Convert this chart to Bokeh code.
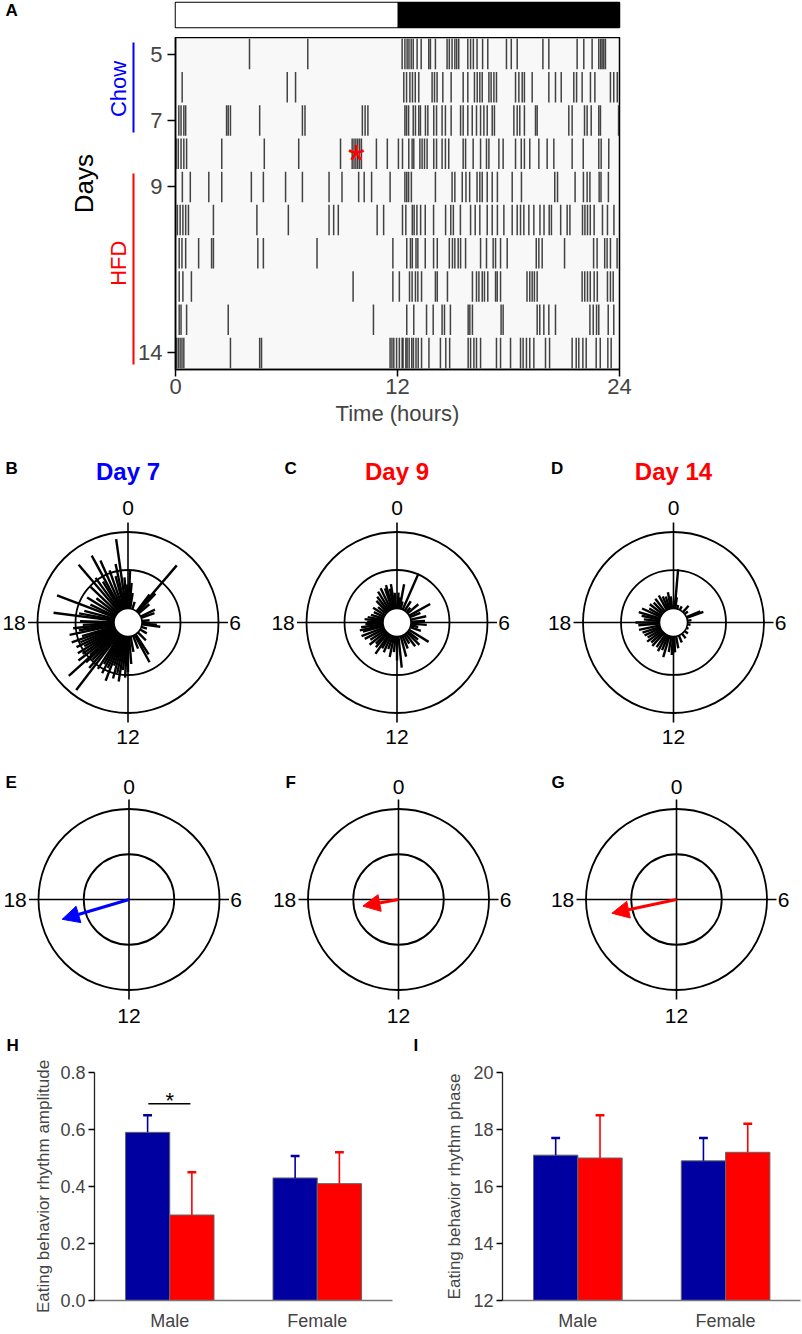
import numpy as np
from bokeh.plotting import figure
from bokeh.layouts import column, row
from bokeh.models import Range1d, FixedTicker, Arrow, NormalHead, NumeralTickFormatter
from bokeh.core.properties import value
from bokeh.embed import file_html
from bokeh.resources import INLINE

FONT = "Liberation Sans"
BLUE_T = "#0000ff"
RED = "#ff0000"
NAVY = "#0000a0"

# ---------------- data: panel A (actogram) ----------------
light_dark_start = [0, 12]
light_dark_end = [12, 24]
light_dark_color = ["white", "black"]

act_days = [5, 6, 7, 8, 9, 10, 11, 12, 13, 14]
act_day_ticks = [5, 7, 9, 14]
act_hour_ticks = [0, 12, 24]
day5 = [4.0, 7.15, 12.25, 12.4, 12.52, 12.62, 12.74, 12.85, 13.06, 13.28, 13.69, 13.78, 14.05, 14.68, 14.8,
        14.95, 15.1, 15.2, 15.31, 15.8, 15.95, 16.1, 16.3, 16.6, 16.88, 17.89, 18.15, 18.47, 19.86, 20.18,
        21.71, 22.07, 22.52, 22.88, 22.98, 23.06, 23.15, 23.24]
day6 = [0.36, 6.04, 6.49, 12.34, 12.49, 12.67, 12.81, 12.96, 13.15, 13.87, 14.0, 14.14, 14.45, 14.9, 15.55,
        15.8, 16.16, 16.31, 16.45, 16.58, 16.94, 17.06, 17.21, 17.35, 18.38, 18.56, 18.74, 18.86, 19.28,
        20.18, 20.54, 20.85, 21.53, 21.68, 21.98, 22.43, 22.67, 23.51, 23.69, 23.88]
day7 = [0.18, 0.3, 0.45, 0.55, 2.76, 2.85, 2.97, 4.55, 6.86, 7.0, 10.1, 10.25, 10.4, 12.4, 12.49, 12.6,
        12.85, 12.97, 13.15, 13.24, 13.51, 13.64, 13.96, 14.11, 14.41, 14.59, 14.9, 15.41, 15.55, 15.8,
        16.04, 16.27, 16.49, 16.67, 16.85, 17.12, 17.24, 18.29, 18.47, 18.61, 18.86, 19.46, 19.55, 21.26,
        21.44, 22.11, 22.25, 22.47, 22.88, 22.97, 23.95]
day8 = [0.03, 0.15, 0.3, 0.45, 0.6, 2.5, 4.8, 6.66, 8.92, 9.55, 9.65, 9.75, 9.85, 9.95, 10.05, 10.86, 11.45,
        12.05, 12.27, 12.61, 12.79, 12.88, 13.21, 13.33, 13.46, 13.6, 13.96, 14.11, 14.41, 14.59, 14.77,
        15.55, 15.68, 16.09, 16.49, 16.81, 16.94, 17.48, 17.71, 18.38, 18.69, 18.86, 19.15, 19.64, 20.09,
        20.45, 21.44, 22.04, 22.88, 23.01, 23.42]
day9 = [0.37, 0.8, 1.8, 2.5, 4.1, 4.75, 5.95, 6.86, 8.3, 9.0, 9.9, 10.2, 10.6, 11.6, 12.4, 12.5, 12.6, 12.75,
        14.05, 14.95, 15.1, 15.5, 15.7, 15.9, 16.3, 16.45, 16.58, 16.85, 17.12, 17.4, 18.2, 18.7, 20.5,
        20.65, 21.6, 22.05, 22.25, 22.4, 22.9, 23.0, 23.4]
day10 = [0.1, 0.25, 0.4, 0.55, 0.7, 2.05, 4.4, 6.1, 8.3, 8.55, 8.8, 10.9, 11.25, 12.27, 12.45, 12.8, 12.9,
         13.05, 13.25, 13.5, 13.95, 14.6, 14.88, 15.02, 15.4, 15.95, 16.2, 16.45, 16.85, 17.12, 17.4, 17.75,
         18.2, 18.47, 18.65, 18.83, 19.1, 19.37, 19.7, 19.92, 20.2, 20.32, 20.82, 21.17, 21.32, 22.0, 22.13,
         22.27, 22.42, 22.63, 23.08, 23.35, 23.7]
day11 = [0.2, 0.35, 0.55, 1.25, 1.95, 2.05, 4.45, 4.75, 7.65, 11.75, 12.5, 12.7, 12.8, 13.0, 13.1, 13.5,
         13.95, 14.15, 14.8, 14.97, 15.1, 15.28, 15.41, 15.68, 16.49, 16.81, 17.17, 17.3, 17.57, 17.93, 19.5,
         19.64, 19.82, 21.03, 22.6, 22.79, 23.2, 23.33, 23.51, 23.87]
day12 = [0.2, 0.4, 0.86, 9.6, 11.75, 12.1, 12.65, 12.79, 12.97, 13.1, 13.3, 14.05, 14.15, 14.7, 16.05, 16.27,
         16.4, 16.58, 16.7, 16.88, 17.3, 17.39, 17.57, 19.0, 19.15, 19.28, 19.4, 19.55, 21.98, 22.12, 22.27,
         22.42, 22.63, 22.8, 23.35, 23.51, 23.66]
day13 = [0.2, 0.3, 0.6, 2.85, 10.7, 12.5, 12.88, 13.57, 13.93, 14.41, 14.54, 14.86, 15.82, 15.91, 16.05,
         17.6, 17.71, 19.55, 19.69, 19.91, 20.18, 20.54, 22.4, 22.58, 22.76, 22.88, 23.39, 23.69]
day14 = [0.05, 0.15, 0.25, 0.35, 0.45, 2.97, 4.55, 4.65, 11.6, 11.7, 11.8, 11.95, 12.1, 12.25, 12.3, 12.45,
         12.52, 12.63, 12.77, 12.86, 13.0, 13.12, 13.3, 13.7, 14.32, 14.61, 14.82, 15.82, 15.95, 16.13, 16.27,
         16.49, 17.35, 17.57, 18.11, 18.65, 18.79, 18.97, 19.15, 19.37, 20.0, 20.22, 21.44, 21.66, 21.8,
         22.02, 22.2, 22.74, 22.96, 23.37, 23.55]
act_events = [day5, day6, day7, day8, day9, day10, day11, day12, day13, day14]
star_hour = 9.78
star_day = 8
chow_days = (4.65, 7.36)
hfd_days = (8.6, 14.35)

# ---------------- data: panels B-D (circular histograms, radius = fraction of outer ring) -------
h7 = [0.15, 0.35, 0.6, 1.2, 2.5, 2.7, 2.9, 3.3, 4.3, 4.7, 5.6, 6.3, 6.5, 7.2, 8.0, 9.0, 9.8, 10.1, 10.6, 11.3,
      11.7, 12.0, 12.2, 12.4, 12.6, 12.8, 13.0, 13.2, 13.4, 13.6, 13.8, 14.0, 14.2, 14.5, 14.7, 14.9, 15.1,
      15.2, 15.3, 15.5, 15.7, 15.9, 16.1, 16.3, 16.5, 16.7, 16.9, 17.2, 17.4, 17.6, 17.8, 18.1, 18.5, 18.7,
      19.0, 19.4, 19.7, 20.1, 20.5, 20.9, 21.3, 21.6, 21.9, 22.1, 22.4, 22.7, 23.0, 23.2, 23.46, 23.7, 23.9]
r7 = [0.57, 0.44, 0.33, 0.24, 0.39, 0.83, 0.44, 0.31, 0.33, 0.31, 0.24, 0.32, 0.36, 0.22, 0.24, 0.28, 0.42,
      0.50, 0.31, 0.33, 0.46, 0.55, 0.61, 0.53, 0.66, 0.57, 0.64, 0.50, 0.69, 0.55, 0.63, 0.53, 0.61, 0.94,
      0.66, 0.57, 0.64, 0.88, 0.55, 0.69, 0.61, 0.65, 0.55, 0.63, 0.57, 0.66, 0.53, 0.66, 0.55, 0.61, 0.50,
      0.53, 0.83, 0.55, 0.50, 0.84, 0.46, 0.53, 0.44, 0.57, 0.84, 0.61, 0.53, 0.84, 0.75, 0.61, 0.53, 0.66,
      0.93, 0.50, 0.42]
h9 = [0.2, 0.5, 0.7, 1.0, 1.58, 2.2, 2.8, 3.3, 4.05, 4.5, 5.2, 5.8, 6.3, 6.8, 7.3, 8.1, 8.6, 9.0, 9.5, 10.0,
      10.5, 11.0, 11.6, 12.0, 12.4, 12.8, 13.2, 13.6, 14.0, 14.3, 14.7, 15.0, 15.4, 15.8, 16.2, 16.6, 17.0,
      17.2, 17.5, 17.8, 18.1, 18.4, 18.7, 19.1, 19.6, 20.1, 20.6, 21.1, 21.5, 21.9, 22.3, 22.7, 22.9, 23.2,
      23.4, 23.7]
r9 = [0.33, 0.28, 0.43, 0.24, 0.59, 0.28, 0.22, 0.31, 0.42, 0.28, 0.33, 0.31, 0.33, 0.24, 0.28, 0.41, 0.30,
      0.35, 0.33, 0.27, 0.31, 0.39, 0.50, 0.42, 0.33, 0.39, 0.31, 0.36, 0.33, 0.42, 0.36, 0.33, 0.39, 0.35,
      0.40, 0.42, 0.39, 0.42, 0.40, 0.35, 0.33, 0.36, 0.33, 0.30, 0.28, 0.31, 0.27, 0.33, 0.36, 0.40, 0.42,
      0.40, 0.43, 0.38, 0.43, 0.33]
h14 = [0.1, 0.33, 0.5, 1.0, 1.8, 2.8, 3.5, 4.5, 4.7, 5.5, 6.5, 7.5, 8.5, 9.5, 10.5, 11.3, 11.8, 12.2, 12.6,
       13.1, 13.5, 13.9, 14.3, 14.8, 15.2, 15.6, 16.0, 16.4, 16.8, 17.2, 17.7, 18.0, 18.4, 18.8, 19.1, 19.6,
       20.0, 20.5, 21.0, 21.5, 22.1, 22.5, 22.9, 23.3, 23.6]
r14 = [0.24, 0.59, 0.28, 0.20, 0.20, 0.25, 0.20, 0.32, 0.35, 0.20, 0.19, 0.18, 0.20, 0.22, 0.24, 0.29, 0.33,
       0.36, 0.33, 0.40, 0.33, 0.36, 0.33, 0.35, 0.33, 0.36, 0.33, 0.35, 0.36, 0.39, 0.39, 0.42, 0.33, 0.36,
       0.40, 0.38, 0.31, 0.33, 0.31, 0.33, 0.34, 0.31, 0.30, 0.34, 0.29]
hist_titles = ["Day 7", "Day 9", "Day 14"]
hist_title_colors = [BLUE_T, RED, RED]

# ---------------- data: panels E-G (mean vectors) ----------------
vec_phase = [16.9, 17.3, 17.2]      # hours
vec_amp = [0.77, 0.40, 0.73]        # fraction of outer ring
vec_colors = [BLUE_T, RED, RED]

# ---------------- data: panels H-I (bars) ----------------
groups = ["Male", "Female"]
amp_chow = [0.59, 0.43]
amp_chow_err = [0.06, 0.077]
amp_hfd = [0.30, 0.41]
amp_hfd_err = [0.15, 0.11]
phase_chow = [17.1, 16.9]
phase_chow_err = [0.6, 0.8]
phase_hfd = [17.0, 17.2]
phase_hfd_err = [1.5, 1.0]
amp_sig_level = 0.69


def txt(p, x, y, s, size, color="black", bold=False, align="center", baseline="middle", angle=0.0):
    p.text(x=[x], y=[y], text=[s], text_font=value(FONT), text_font_size=value(f"{size}px"),
           text_color=color, text_font_style="bold" if bold else "normal",
           text_align=align, text_baseline=baseline, angle=angle)


def blank(w, h, xr, yr, **kw):
    p = figure(width=w, height=h, x_range=xr, y_range=yr, toolbar_location=None, output_backend="svg",
               min_border=0, x_axis_location=None, y_axis_location=None, outline_line_color=None, **kw)
    p.grid.visible = False
    return p


# ---------------- Panel A ----------------
hours_range = Range1d(0, 24)
days_range = Range1d(14.5, 4.5)

pa = blank(135, 37, Range1d(0, 135), Range1d(37, 0))
txt(pa, 5, 12, "A", 17, bold=True, align="left")

pbar = figure(width=666, height=37, x_range=hours_range, y_range=Range1d(0, 1), toolbar_location=None,
              output_backend="svg", min_border=0, min_border_left=40, min_border_right=182,
              min_border_top=2, min_border_bottom=10, x_axis_location=None, y_axis_location=None,
              outline_line_color="black", outline_line_width=1.5)
pbar.grid.visible = False
pbar.quad(left=light_dark_start, right=light_dark_end, bottom=0, top=1, fill_color=light_dark_color,
          line_color=None)

pt = figure(width=666, height=393, x_range=hours_range, y_range=days_range, toolbar_location=None,
            output_backend="svg", min_border=0, min_border_left=40, min_border_right=182,
            min_border_bottom=61, background_fill_color="#f8f8f8",
            outline_line_color="black", outline_line_width=1.5)
pt.grid.visible = False
xs, y0s, y1s = [], [], []
for d, evs in zip(act_days, act_events):
    for h in evs:
        xs.append(h)
        y0s.append(d - 0.46)
        y1s.append(d + 0.46)
pt.segment(x0=xs, y0=y0s, x1=xs, y1=y1s, line_color="#222222", line_alpha=0.85, line_width=1.5)
pt.text(x=[star_hour], y=[star_day + 0.2], text=["*"], text_font=value(FONT), text_font_size=value("44px"),
        text_color=RED, text_align="center", text_baseline="alphabetic")
for ax in (pt.xaxis[0], pt.yaxis[0]):
    ax.axis_line_width = 1.5
    ax.major_tick_line_width = 1.5
    ax.major_tick_in = 0
    ax.minor_tick_line_color = None
    ax.major_label_text_font = FONT
    ax.major_label_text_font_size = "22px"
    ax.axis_label_text_font = FONT
    ax.axis_label_text_font_style = "normal"
pt.xaxis.ticker = FixedTicker(ticks=act_hour_ticks)
pt.xaxis.major_tick_out = 7
pt.xaxis.major_label_standoff = 2
pt.xaxis.axis_label = "Time (hours)"
pt.xaxis.axis_label_text_font_size = "22px"
pt.xaxis.axis_label_standoff = 4
pt.yaxis.ticker = FixedTicker(ticks=act_day_ticks)
pt.yaxis.major_tick_out = 8
pt.yaxis.major_label_standoff = 5

pl = figure(width=135, height=393, x_range=Range1d(0, 135), y_range=days_range, toolbar_location=None,
            output_backend="svg", min_border=0, min_border_bottom=61, x_axis_location=None,
            y_axis_location=None, outline_line_color=None)
pl.grid.visible = False
txt(pl, 83, 8.9, "Days", 26, angle=np.pi / 2)
txt(pl, 118, 6.05, "Chow", 22, color=BLUE_T, angle=np.pi / 2)
txt(pl, 118, 11.3, "HFD", 22, color=RED, angle=np.pi / 2)
pl.segment(x0=[133, 133], y0=[chow_days[0], hfd_days[0]], x1=[133, 133], y1=[chow_days[1], hfd_days[1]],
           line_color=[BLUE_T, RED], line_width=2)

# ---------------- polar panels ----------------
S = 90.5


def polar(w, h, cx, cy, inner, y_top_lab, y_bot_lab, letter, lx, ly):
    p = blank(w, h, Range1d(-cx / S, (w - cx) / S), Range1d(-(h - cy) / S, cy / S))
    p.circle(x=[0, 0], y=[0, 0], radius=[1.0, inner], fill_color=None, line_color="black", line_width=1.8)
    p.segment(x0=[-1.105, 0], y0=[0, -1.105], x1=[1.105, 0], y1=[0, 1.105], line_color="black",
              line_width=1.6)
    txt(p, 0, y_top_lab, "0", 21)
    txt(p, 0, y_bot_lab, "12", 21)
    txt(p, -1.13, 0, "18", 21, align="right")
    txt(p, 1.12, 0, "6", 21, align="left")
    txt(p, lx, ly, letter, 17, bold=True, align="left")
    return p


row_w = [262, 274, 265]
bcd_cx = [127.5, 134.5, 137]
bcd_letters = ["B", "C", "D"]
bcd_lx = [-1.354, -1.243, -1.354]
hist_h = [h7, h9, h14]
hist_r = [r7, r9, r14]
hole = 0.155
bcd = []
for i in range(3):
    p = polar(row_w[i], 322, bcd_cx[i], 192, 0.58, 1.26, -1.27, bcd_letters[i], bcd_lx[i], 1.70)
    th = 2 * np.pi * np.array(hist_h[i]) / 24.0
    rr = np.array(hist_r[i])
    p.segment(x0=hole * np.sin(th), y0=hole * np.cos(th), x1=rr * np.sin(th), y1=rr * np.cos(th),
              line_color="black", line_width=2.4)
    p.circle(x=[0], y=[0], radius=[hole], fill_color="white", line_color="black", line_width=1.6)
    txt(p, 0, 1.669, hist_titles[i], 24, color=hist_title_colors[i], bold=True)
    bcd.append(p)

efg_cx = [128.5, 136, 140]
efg_letters = ["E", "F", "G"]
efg_lx = [-1.365, -1.249, -1.381]
efg = []
for i in range(3):
    p = polar(row_w[i], 278, efg_cx[i], 147, 0.5, 1.238, -1.282, efg_letters[i], efg_lx[i], 1.293)
    th = 2 * np.pi * vec_phase[i] / 24.0
    c = vec_colors[i]
    p.add_layout(Arrow(end=NormalHead(size=17, fill_color=c, line_color=c, line_width=1),
                       x_start=0, y_start=0, x_end=vec_amp[i] * np.sin(th), y_end=vec_amp[i] * np.cos(th),
                       line_color=c, line_width=3))
    efg.append(p)

# ---------------- bar panels ----------------
strip = blank(801, 29, Range1d(0, 801), Range1d(29, 0))
txt(strip, 6, 15, "H", 17, bold=True, align="left")
txt(strip, 413, 15, "I", 17, bold=True, align="left")

gpos = [0, 1]
half = 0.15


def bars(w, left, right, xr, yr, ticks, base, chow, chow_e, hfd, hfd_e, ylabel, lab_standoff, fmt=None):
    p = figure(width=w, height=274, x_range=xr, y_range=yr, toolbar_location=None, output_backend="svg",
               min_border=0, min_border_left=left, min_border_right=right, min_border_top=13,
               min_border_bottom=24, outline_line_color=None)
    p.grid.visible = False
    xb = [g - half for g in gpos]
    xr_ = [g + half for g in gpos]
    p.vbar(x=xb, top=chow, bottom=base, width=0.3, fill_color=NAVY, line_color="#666666", line_width=1)
    p.vbar(x=xr_, top=hfd, bottom=base, width=0.3, fill_color=RED, line_color="#666666", line_width=1)
    for xx, m, e, c in ((xb, chow, chow_e, NAVY), (xr_, hfd, hfd_e, RED)):
        tops = [a + b for a, b in zip(m, e)]
        p.segment(x0=xx, y0=m, x1=xx, y1=tops, line_color=c, line_width=1.6)
        p.segment(x0=[x - 0.03 for x in xx], y0=tops, x1=[x + 0.03 for x in xx], y1=tops, line_color=c,
                  line_width=2.6)
    ya = p.yaxis[0]
    ya.ticker = FixedTicker(ticks=ticks)
    if fmt:
        ya.formatter = NumeralTickFormatter(format=fmt)
    ya.major_tick_out = 6
    ya.major_tick_in = 0
    ya.minor_tick_line_color = None
    ya.major_label_standoff = 3
    ya.major_label_text_font = FONT
    ya.major_label_text_font_size = "18px"
    ya.axis_label = ylabel
    ya.axis_label_text_font = FONT
    ya.axis_label_text_font_size = "17px"
    ya.axis_label_text_font_style = "normal"
    ya.axis_label_standoff = lab_standoff
    ya.axis_line_color = "#222222"
    ya.axis_line_width = 1.3
    ya.major_tick_line_width = 1.3
    xa = p.xaxis[0]
    xa.ticker = FixedTicker(ticks=gpos)
    xa.major_label_overrides = {0: groups[0], 1: groups[1]}
    xa.major_tick_line_color = None
    xa.minor_tick_line_color = None
    xa.major_label_standoff = 4
    xa.major_label_text_font = FONT
    xa.major_label_text_font_size = "18px"
    xa.axis_line_color = "#777777"
    xa.axis_line_width = 1.5
    return p


ph = bars(400, 94, 8, Range1d(-0.51, 1.51), Range1d(0, 0.8), [0, 0.2, 0.4, 0.6, 0.8], 0,
          amp_chow, amp_chow_err, amp_hfd, amp_hfd_err, "Eating behavior rhythm amplitude", 4, fmt="0.0")
ph.segment(x0=[-0.145], y0=[amp_sig_level], x1=[0.14], y1=[amp_sig_level], line_color="black",
           line_width=1.5)
ph.text(x=[0], y=[amp_sig_level + 0.013], text=["*"], text_font=value(FONT), text_font_size=value("22px"),
        text_color="black", text_align="center", text_baseline="alphabetic")

pi_ = bars(401, 102, 1, Range1d(-0.51, 1.507), Range1d(12, 20), [12, 14, 16, 18, 20], 12,
           phase_chow, phase_chow_err, phase_hfd, phase_hfd_err, "Eating behavior rhythm phase", 6)

layout = column(
    row(pa, pbar),
    row(pl, pt),
    row(*bcd),
    row(*efg),
    strip,
    row(ph, pi_),
)

open("out.html", "w").write(file_html(layout, INLINE, title="Eating behavior rhythms"))
